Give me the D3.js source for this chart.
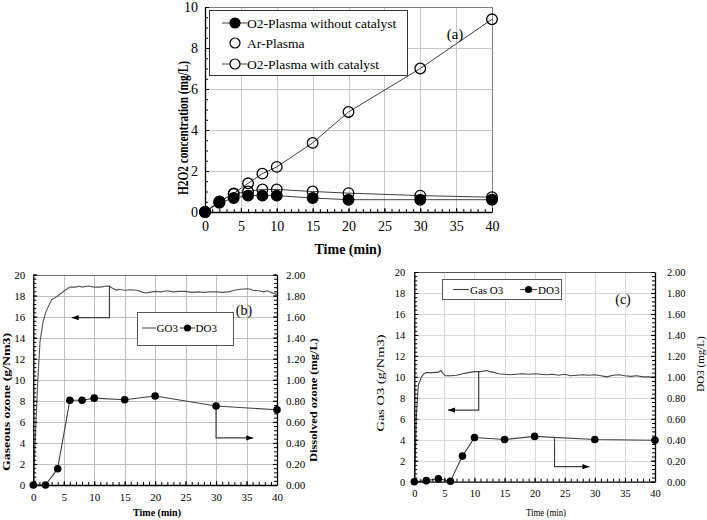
<!DOCTYPE html>
<html><head><meta charset="utf-8">
<script src="https://cdn.jsdelivr.net/npm/d3@7"></script>
<style>
body{margin:0;background:#fff}
svg{display:block}
text{font-family:"Liberation Serif","Times New Roman",serif;fill:#000}
</style>
</head><body>
<svg id="c" width="707" height="520"></svg>
<script>
// ---------- Panel (a) data ----------
const timeA = [0, 2, 4, 6, 8, 10, 15, 20, 30, 40];
const o2NoCatalyst = [0, 0.45, 0.68, 0.8, 0.8, 0.8, 0.68, 0.6, 0.6, 0.6];
const arPlasma = [0, 0.5, 0.9, 1.4, 1.87, 2.2, 3.37, 4.88, 7.0, 9.4];
const o2WithCatalyst = [0, 0.52, 0.88, 1.0, 1.1, 1.1, 1.0, 0.92, 0.8, 0.72];
const legendA = ["O2-Plasma without catalyst", "Ar-Plasma", "O2-Plasma with catalyst"];
const xTicksA = [0, 5, 10, 15, 20, 25, 30, 35, 40];
const yTicksA = [0, 2, 4, 6, 8, 10];

// ---------- Panel (b) data ----------
const timeB = [0, 2, 4, 6, 8, 10, 15, 20, 30, 40];
const do3B = [0, 0, 0.155, 0.805, 0.805, 0.825, 0.81, 0.845, 0.75, 0.715];
const go3TimeB = [0, 0.3, 0.7, 1.1, 1.6, 2.1, 3, 4.1, 5.2, 6, 7, 7.5, 8, 9, 10, 11, 12, 12.5, 13, 13.7, 14, 15, 16, 17, 18, 18.5, 19, 20, 21, 22, 23, 24, 25, 26, 27, 28, 29, 30, 31, 32, 33, 34, 35, 35.7, 36, 37, 37.8, 38.5, 39, 40];
const go3B = [0, 4, 9.5, 13.6, 15.5, 16.5, 17.6, 18.0, 18.5, 18.8, 18.8, 18.9, 18.8, 18.9, 18.8, 18.8, 18.9, 18.9, 18.7, 18.5, 18.6, 18.5, 18.55, 18.5, 18.3, 18.25, 18.3, 18.4, 18.35, 18.45, 18.35, 18.4, 18.4, 18.3, 18.35, 18.3, 18.35, 18.35, 18.3, 18.35, 18.5, 18.6, 18.65, 18.6, 18.5, 18.45, 18.35, 18.45, 18.3, 18.1];
const legendB = ["GO3", "DO3"];
const yTicksB = [0, 2, 4, 6, 8, 10, 12, 14, 16, 18, 20];
const yTicksBRight = [0, 0.2, 0.4, 0.6, 0.8, 1.0, 1.2, 1.4, 1.6, 1.8, 2.0];
const arrowsB = [[12.5, 18.9, 15.9, 6.3], [30, 7.5, 4.47, 36.1]];

// ---------- Panel (c) data ----------
const timeC = [0, 2, 4, 6, 8, 10, 15, 20, 30, 40];
const do3C = [0, 0.01, 0.028, 0.005, 0.244, 0.422, 0.403, 0.432, 0.402, 0.395];
const gasTimeC = [0, 0.2, 0.35, 0.66, 1.2, 1.6, 2, 3, 4, 4.4, 4.8, 5.2, 6, 7, 8, 9, 10, 11, 12, 12.5, 13, 14, 15, 16, 17, 18, 19, 20, 21, 22, 23, 24, 25, 26, 27, 28, 29, 30, 31, 32, 33, 34, 35, 36, 37, 38, 39, 40];
const gasC = [0, 3, 6.4, 9.2, 10.0, 10.3, 10.4, 10.4, 10.45, 10.6, 10.3, 10.1, 10.1, 10.15, 10.3, 10.4, 10.5, 10.5, 10.6, 10.5, 10.45, 10.3, 10.25, 10.2, 10.25, 10.3, 10.25, 10.3, 10.25, 10.2, 10.25, 10.15, 10.25, 10.1, 10.15, 10.2, 10.15, 10.2, 10.1, 10.0, 10.15, 10.2, 10.1, 10.05, 10.1, 10.0, 10.0, 9.95];
const legendC = ["Gas O3", "DO3"];
const arrowsC = [[10.7, 10.5, 6.83, 5.6], [23.3, 4.15, 1.43, 29.1]];

const svg = d3.select("#c");
const LINE = "#404040";
const SERIF = '"Liberation Serif","Times New Roman",serif';
function minorTicks(step, max) { const a = []; for (let v = 0; v <= max + 1e-9; v += step) a.push(+v.toFixed(4)); return a; }
const px = v => Math.round(v) + 0.5;

// background layer for grids, appended before any panel
const gridLayer = svg.append("g").attr("id", "gridLayer");

function drawFrame(x, y, opt) {
  const [x0, x1] = x.range(), [y0, y1] = y.range();
  const vx = opt.xTicks.filter(d => d > 0 && d < 40);
  const hy = opt.yTicks.slice(1, -1);
  gridLayer.append("g").selectAll("rect").data(vx).enter().append("rect")
    .attr("x", d => Math.round(x(d))).attr("y", y1).attr("width", 1).attr("height", y0 - y1).attr("fill", opt.grid);
  gridLayer.append("g").selectAll("rect").data(hy).enter().append("rect")
    .attr("x", x0).attr("y", d => Math.round(y(d))).attr("width", x1 - x0).attr("height", 1).attr("fill", opt.grid);
  gridLayer.append("rect").attr("x", x0).attr("y", Math.round(y1)).attr("width", x1 - x0).attr("height", 1).attr("fill", opt.border);
  if (!opt.rightAxis) gridLayer.append("rect").attr("x", Math.round(x1)).attr("y", y1).attr("width", 1).attr("height", y0 - y1).attr("fill", opt.border);
}

function styleAxis(sel, fs) {
  sel.attr("font-family", SERIF).attr("font-size", fs);
  sel.select(".domain").attr("stroke", "#000").attr("stroke-width", 1.3);
  sel.selectAll(".tick line").attr("stroke", "#000");
  sel.selectAll("text").attr("font-size", fs).attr("fill", "#000");
}

function axes(g, x, y, opt) {
  const [x0, x1] = x.range(), [y0, y1] = y.range();
  g.append("g").attr("transform", `translate(0,${y0})`)
    .call(d3.axisBottom(x).tickValues(minorTicks(1, 40)).tickSize(-opt.minorLen).tickFormat(""))
    .call(s => { s.select(".domain").remove(); s.selectAll(".tick line").attr("stroke", "#000"); });
  g.append("g").attr("transform", `translate(${x0},0)`)
    .call(d3.axisLeft(y).tickValues(minorTicks(opt.yMinor, opt.yMax)).tickSize(-opt.minorLen).tickFormat(""))
    .call(s => { s.select(".domain").remove(); s.selectAll(".tick line").attr("stroke", "#000"); });
  const ax = g.append("g").attr("transform", `translate(0,${y0})`)
    .call(d3.axisBottom(x).tickValues(opt.xTicks).tickSize(-opt.majorLen).tickPadding(opt.xPad).tickSizeOuter(0).tickFormat(d3.format("d")));
  styleAxis(ax, opt.fs);
  const ay = g.append("g").attr("transform", `translate(${x0},0)`)
    .call(d3.axisLeft(y).tickValues(opt.yTicks).tickSize(-opt.majorLen).tickPadding(opt.yPad).tickSizeOuter(0).tickFormat(d3.format("d")));
  styleAxis(ay, opt.fs);
  if (opt.rightAxis) {
    const yr = opt.rightAxis;
    g.append("g").attr("transform", `translate(${x1},0)`)
      .call(d3.axisRight(yr).tickValues(minorTicks(0.04, 2)).tickSize(-opt.minorLen).tickFormat(""))
      .call(s => { s.select(".domain").remove(); s.selectAll(".tick line").attr("stroke", "#000"); });
    const ar = g.append("g").attr("transform", `translate(${x1},0)`)
      .call(d3.axisRight(yr).tickValues(opt.yTicksRight).tickSize(-opt.majorLen).tickPadding(opt.rPad).tickSizeOuter(0).tickFormat(d3.format(".2f")));
    styleAxis(ar, opt.fs);
  }
}

function axisTitle(g, txt, x, y, rot, fs, bold, len) {
  const t = g.append("text").attr("transform", `translate(${x},${y}) rotate(${rot})`)
    .attr("text-anchor", "middle").attr("dominant-baseline", "central")
    .attr("font-size", fs).attr("font-weight", bold ? "bold" : "normal").text(txt);
  if (len) t.attr("textLength", len).attr("lengthAdjust", "spacingAndGlyphs");
  return t;
}

function drawArrows(g, x, y, list) {
  list.forEach(([t0, v0, v1, t1]) => {
    g.append("path").attr("d", d3.line()([[x(t0), y(v0)], [x(t0), y(v1)], [x(t1), y(v1)]]))
      .attr("fill", "none").attr("stroke", LINE).attr("stroke-width", 1.2);
    const dir = t1 > t0 ? 1 : -1, ex = x(t1), ey = y(v1);
    g.append("path").attr("d", `M${ex},${ey} L${ex - dir * 7},${ey - 2.6} L${ex - dir * 7},${ey + 2.6} Z`).attr("fill", "#000");
  });
}

// ================= Panel (a) =================
{
  const g = svg.append("g");
  const x = d3.scaleLinear().domain([0, 40]).range([205, 492]);
  const y = d3.scaleLinear().domain([0, 10]).range([212, 7]);
  drawFrame(x, y, { xTicks: xTicksA, yTicks: yTicksA, grid: "#c8c8c8", border: "#808080" });
  axes(g, x, y, { xTicks: xTicksA, yTicks: yTicksA, yMinor: 0.5, yMax: 10, minorLen: 3, majorLen: 4, xPad: 9, yPad: 7, fs: 14 });
  const line = d3.line().x((d, i) => x(timeA[i])).y(d => y(d));
  [o2WithCatalyst, arPlasma, o2NoCatalyst].forEach(s => {
    g.append("path").attr("d", line(s)).attr("fill", "none").attr("stroke", LINE).attr("stroke-width", 1);
  });
  [[arPlasma, "none"], [o2WithCatalyst, "none"], [o2NoCatalyst, "#000"]].forEach(([s, f]) => {
    g.append("g").selectAll("circle").data(s).enter().append("circle")
      .attr("cx", (d, i) => x(timeA[i])).attr("cy", d => y(d)).attr("r", 5.3)
      .attr("fill", f).attr("stroke", "#000").attr("stroke-width", 1.3);
  });
  axisTitle(g, "Time (min)", 348, 249, 0, 14, true);
  axisTitle(g, "H2O2 concentration (mg/L)", 183, 128, -90, 14, true, 134);
  const lg = g.append("g");
  lg.append("rect").attr("x", 209.5).attr("y", 10.5).attr("width", 198).attr("height", 65).attr("fill", "#fff").attr("stroke", "#333");
  const rows = [23, 43, 64];
  legendA.forEach((name, i) => {
    if (i !== 1) lg.append("line").attr("x1", 222).attr("x2", 247).attr("y1", rows[i]).attr("y2", rows[i]).attr("stroke", LINE);
    lg.append("circle").attr("cx", 235).attr("cy", rows[i]).attr("r", 5).attr("fill", i === 0 ? "#000" : "#fff").attr("stroke", "#000").attr("stroke-width", 1.2);
    lg.append("text").attr("x", 247).attr("y", rows[i]).attr("dominant-baseline", "central").attr("font-size", 13.5).text(name);
  });
  g.append("text").attr("x", 455).attr("y", 34).attr("text-anchor", "middle").attr("dominant-baseline", "central").attr("font-size", 15).text("(a)");
}

// ================= Panel (b) =================
{
  const g = svg.append("g");
  const x = d3.scaleLinear().domain([0, 40]).range([33.3, 277]);
  const y = d3.scaleLinear().domain([0, 20]).range([485, 274.5]);
  const yr = d3.scaleLinear().domain([0, 2]).range([485, 274.5]);
  drawFrame(x, y, { xTicks: xTicksA, yTicks: yTicksB, grid: "#c0c0c0", border: "#707070", rightAxis: yr });
  const gl = d3.line().x((d, i) => x(go3TimeB[i])).y(d => y(d));
  g.append("path").attr("d", gl(go3B)).attr("fill", "none").attr("stroke", "#555").attr("stroke-width", 1.1);
  const dl = d3.line().x((d, i) => x(timeB[i])).y(d => yr(d));
  g.append("path").attr("d", dl(do3B)).attr("fill", "none").attr("stroke", LINE).attr("stroke-width", 1.1);
  drawArrows(g, x, y, arrowsB);
  const lg = g.append("g");
  lg.append("rect").attr("x", 137.5).attr("y", 312.5).attr("width", 96).attr("height", 33).attr("fill", "#fff").attr("stroke", "#555");
  lg.append("line").attr("x1", 142).attr("x2", 156).attr("y1", 328).attr("y2", 328).attr("stroke", "#555").attr("stroke-width", 1.1);
  lg.append("text").attr("x", 156.5).attr("y", 328).attr("dominant-baseline", "central").attr("font-size", 11).text(legendB[0]);
  lg.append("line").attr("x1", 180).attr("x2", 195).attr("y1", 328).attr("y2", 328).attr("stroke", LINE).attr("stroke-width", 1.1);
  lg.append("circle").attr("cx", 187.5).attr("cy", 328).attr("r", 3.6).attr("fill", "#000");
  lg.append("text").attr("x", 195.5).attr("y", 328).attr("dominant-baseline", "central").attr("font-size", 11).text(legendB[1]);
  axes(g, x, y, { xTicks: xTicksA, yTicks: yTicksB, yMinor: 0.4, yMax: 20, minorLen: 3, majorLen: 4, xPad: 8, yPad: 8, rPad: 9, fs: 11, rightAxis: yr, yTicksRight: yTicksBRight });
  g.append("g").selectAll("circle").data(do3B).enter().append("circle")
    .attr("cx", (d, i) => x(timeB[i])).attr("cy", d => yr(d)).attr("r", 3.8).attr("fill", "#000");
  axisTitle(g, "Time (min)", 157, 512, 0, 11, true, 48);
  axisTitle(g, "Gaseous ozone (g/Nm3)", 6, 402, -90, 11, true, 138);
  axisTitle(g, "Dissolved ozone (mg/L)", 313, 400, -90, 11, true, 124);
  g.append("text").attr("x", 244).attr("y", 310).attr("text-anchor", "middle").attr("dominant-baseline", "central").attr("font-size", 14).text("(b)");
}

// ================= Panel (c) =================
{
  const g = svg.append("g");
  const x = d3.scaleLinear().domain([0, 40]).range([414.3, 655]);
  const y = d3.scaleLinear().domain([0, 20]).range([481.7, 272]);
  const yr = d3.scaleLinear().domain([0, 2]).range([481.7, 272]);
  drawFrame(x, y, { xTicks: xTicksA, yTicks: yTicksB, grid: "#d8d8d8", border: "#555", rightAxis: yr });
  const gl = d3.line().x((d, i) => x(gasTimeC[i])).y(d => y(d));
  g.append("path").attr("d", gl(gasC)).attr("fill", "none").attr("stroke", "#444").attr("stroke-width", 1.1);
  const dl = d3.line().x((d, i) => x(timeC[i])).y(d => yr(d));
  g.append("path").attr("d", dl(do3C)).attr("fill", "none").attr("stroke", LINE).attr("stroke-width", 1.1);
  drawArrows(g, x, y, arrowsC);
  const lg = g.append("g");
  lg.append("rect").attr("x", 442.5).attr("y", 279.5).attr("width", 119).attr("height", 20).attr("fill", "#fff").attr("stroke", "#555");
  lg.append("line").attr("x1", 453).attr("x2", 469).attr("y1", 289.5).attr("y2", 289.5).attr("stroke", "#444").attr("stroke-width", 1.1);
  lg.append("text").attr("x", 470).attr("y", 289.5).attr("dominant-baseline", "central").attr("font-size", 11).text(legendC[0]);
  lg.append("line").attr("x1", 520).attr("x2", 537).attr("y1", 289.5).attr("y2", 289.5).attr("stroke", LINE).attr("stroke-width", 1.1);
  lg.append("circle").attr("cx", 528.5).attr("cy", 289.5).attr("r", 3.6).attr("fill", "#000");
  lg.append("text").attr("x", 538).attr("y", 289.5).attr("dominant-baseline", "central").attr("font-size", 11).text(legendC[1]);
  axes(g, x, y, { xTicks: xTicksA, yTicks: yTicksB, yMinor: 0.4, yMax: 20, minorLen: 3, majorLen: 4, xPad: 8, yPad: 9, rPad: 12, fs: 10.5, rightAxis: yr, yTicksRight: yTicksBRight });
  g.append("g").selectAll("circle").data(do3C).enter().append("circle")
    .attr("cx", (d, i) => x(timeC[i])).attr("cy", d => yr(d)).attr("r", 3.8).attr("fill", "#000");
  axisTitle(g, "Time (min)", 546, 512, 0, 11, false, 40);
  axisTitle(g, "Gas O3 (g/Nm3)", 380, 383, -90, 11, false, 97);
  axisTitle(g, "DO3 (mg/L)", 700, 364, -90, 11, false);
  g.append("text").attr("x", 623).attr("y", 299).attr("text-anchor", "middle").attr("dominant-baseline", "central").attr("font-size", 14).text("(c)");
}
</script>
</body></html>
